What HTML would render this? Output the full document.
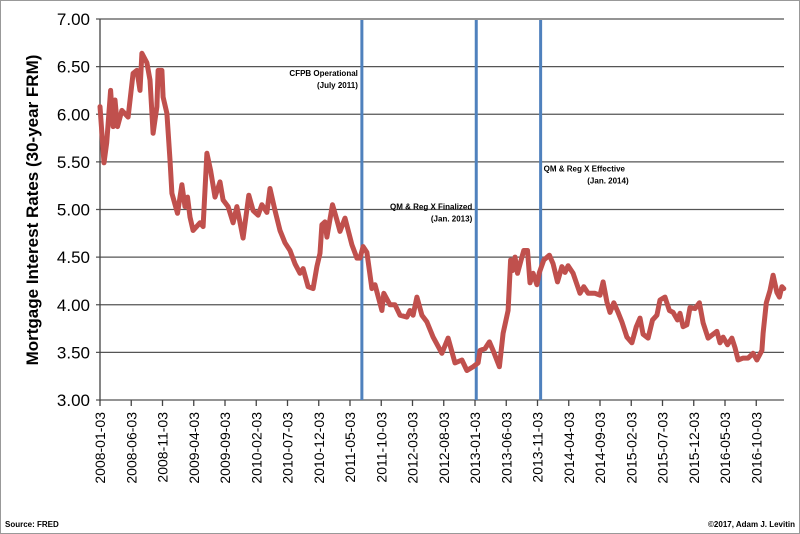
<!DOCTYPE html>
<html><head><meta charset="utf-8"><style>
html,body{margin:0;padding:0;background:#fff}
svg{display:block;font-family:"Liberation Sans",sans-serif}
</style></head><body>
<svg id="chart" width="800" height="534" viewBox="0 0 800 534" xmlns="http://www.w3.org/2000/svg">
<rect x="0.5" y="0.5" width="799" height="533" fill="#fff" stroke="#999" stroke-width="1"/>
<g id="grid"></g>
<g id="yticks"></g>
<g id="xticks"></g>
<g id="events"></g>
<path id="series" fill="none" stroke="#c0504d" stroke-width="5" stroke-linejoin="round" stroke-linecap="round"/>
<text transform="translate(38,210) rotate(-90)" text-anchor="middle" font-size="17" font-weight="bold" fill="#000">Mortgage Interest Rates (30-year FRM)</text>
<text x="5" y="527" font-size="8" font-weight="bold">Source: FRED</text>
<text x="795" y="527" text-anchor="end" font-size="8" font-weight="bold">©2017, Adam J. Levitin</text>
</svg>
<script>
const yTicks=[3.00,3.50,4.00,4.50,5.00,5.50,6.00,6.50,7.00];
const xLabels=["2008-01-03","2008-06-03","2008-11-03","2009-04-03","2009-09-03","2010-02-03","2010-07-03","2010-12-03","2011-05-03","2011-10-03","2012-03-03","2012-08-03","2013-01-03","2013-06-03","2013-11-03","2014-04-03","2014-09-03","2015-02-03","2015-07-03","2015-12-03","2016-05-03","2016-10-03"];
const months=[0,0.64,1.07,1.7,2.1,2.4,2.8,3.5,4.5,5.3,5.9,6.4,6.7,7.5,8,8.5,9.1,9.3,9.9,10.1,10.7,11.2,11.5,12.4,13.1,13.6,14,14.4,14.9,16,16.5,17.1,17.7,18.4,19.2,19.7,20.5,21.3,21.9,22.9,23.8,24.5,25.3,25.9,26.7,27.2,28,28.8,29.6,30.4,31.2,32,32.5,33.3,34.1,34.7,35.2,35.5,36,36.3,37.2,37.9,38.4,39.2,40.3,41.1,41.6,42.1,42.7,43.5,44,45.1,45.4,46.4,47.2,48,49.1,49.6,50.1,50.7,51.5,52.3,53.3,54.7,55.7,56.8,57.9,58.7,59.7,60.5,60.8,61.6,62.3,62.9,63.9,64.5,65.3,65.7,66,66.4,66.8,67.5,67.8,68.4,68.8,69.3,69.9,70.3,71,71.9,72.5,73.2,73.9,74.4,74.9,75.7,76.8,77.4,78.1,79.2,80,80.5,81.1,81.6,82.2,82.9,83.5,84.3,85.1,85.8,86.4,86.9,87.7,88.4,89.1,89.6,90.4,91.1,91.7,92.4,92.8,93.3,93.9,94.4,95.2,95.9,96.5,97.3,98.1,98.7,99.2,99.7,100.4,101.1,101.6,102.1,102.9,103.7,104.5,105.1,105.9,106.1,106.6,107.2,107.7,108.3,108.7,109.1,109.4];
const rates=[6.08,5.49,5.70,6.25,5.87,6.15,5.87,6.04,5.97,6.43,6.46,6.25,6.64,6.54,6.36,5.80,6.08,6.46,6.46,6.18,6.01,5.52,5.17,4.96,5.26,5.03,5.13,4.92,4.78,4.86,4.82,5.59,5.41,5.13,5.29,5.10,5.03,4.86,5.03,4.70,5.15,4.99,4.94,5.05,4.97,5.22,4.99,4.78,4.65,4.57,4.43,4.33,4.38,4.19,4.17,4.40,4.54,4.84,4.87,4.71,5.05,4.89,4.77,4.91,4.63,4.49,4.49,4.61,4.55,4.17,4.21,3.94,4.12,4.00,4.00,3.89,3.87,3.94,3.89,4.08,3.89,3.82,3.66,3.49,3.65,3.39,3.42,3.31,3.35,3.39,3.52,3.54,3.61,3.52,3.35,3.70,3.94,4.47,4.36,4.50,4.33,4.50,4.57,4.57,4.23,4.33,4.21,4.34,4.47,4.52,4.43,4.24,4.40,4.34,4.41,4.33,4.12,4.19,4.12,4.12,4.10,4.24,4.03,3.92,4.02,3.92,3.82,3.66,3.60,3.77,3.86,3.69,3.65,3.84,3.89,4.05,4.08,3.94,3.92,3.84,3.91,3.77,3.79,3.97,3.96,4.02,3.81,3.65,3.69,3.72,3.60,3.66,3.58,3.65,3.55,3.42,3.44,3.44,3.49,3.42,3.52,3.70,4.02,4.15,4.31,4.13,4.08,4.19,4.17];
const eventMonths=[41.9,60.2,70.5];
const eventLines1=["CFPB Operational","QM & Reg X Finalized","QM & Reg X Effective"];
const eventLines2=["(July 2011)","(Jan. 2013)","(Jan. 2014)"];
const eventRates=[6.40,5.00,5.40];

const NS="http://www.w3.org/2000/svg";
const X0=100,PXM=6.25,Y0=19,PXV=95.25,YMAX=7,XR=784;
const xs=m=>X0+m*PXM, ys=v=>Y0+(YMAX-v)*PXV;
function mk(tag,attrs,parent,txt){const e=document.createElementNS(NS,tag);for(const k in attrs)e.setAttribute(k,attrs[k]);if(txt!=null)e.textContent=txt;parent.appendChild(e);return e;}
const grid=document.getElementById('grid'),yt=document.getElementById('yticks'),xt=document.getElementById('xticks'),ev=document.getElementById('events');
yTicks.forEach(v=>{
  const l=mk('line',{x1:X0-4,x2:XR,y1:ys(v),y2:ys(v),stroke:'#555','stroke-width':1.3},grid);
  
  
  const t=mk('text',{x:X0-10,y:ys(v)+6,'text-anchor':'end','font-size':17,fill:'#000'},yt,v.toFixed(2));
  
  
});
const ax=mk('line',{x1:X0,x2:X0,y1:ys(7),y2:ys(3)+1,stroke:'#444','stroke-width':1.3},grid);


xLabels.forEach((lab,i)=>{
  const x=xs(i*5);
  const tk=mk('line',{x1:x,x2:x,y1:ys(3),y2:ys(3)+6,stroke:'#444','stroke-width':1.3},xt);
  
  
  const t=mk('text',{transform:`translate(${x+5},412) rotate(-90)`,'text-anchor':'end','font-size':14,fill:'#000'},xt,lab);
  
  
});
eventMonths.forEach((m,i)=>{
  const x=xs(m);
  const l=mk('line',{x1:x,x2:x,y1:20,y2:ys(3),stroke:'#4f81bd','stroke-width':3},ev);
  
  
  const right=i<2, y=ys(eventRates[i]);
  const t1=mk('text',{x:right?x-4:x+3,y:y,'text-anchor':right?'end':'start','font-size':8,'font-weight':'bold',fill:'#000'},ev,eventLines1[i]);
  
  
  const t2=mk('text',{x:right?x-4:x+88,y:y+12,'text-anchor':'end','font-size':8,'font-weight':'bold',fill:'#000'},ev,eventLines2[i]);
  
  
});
document.getElementById('series').setAttribute('d',months.map((m,i)=>(i?'L':'M')+xs(m).toFixed(1)+' '+ys(rates[i]).toFixed(1)).join(' '));
</script>
</body></html>
